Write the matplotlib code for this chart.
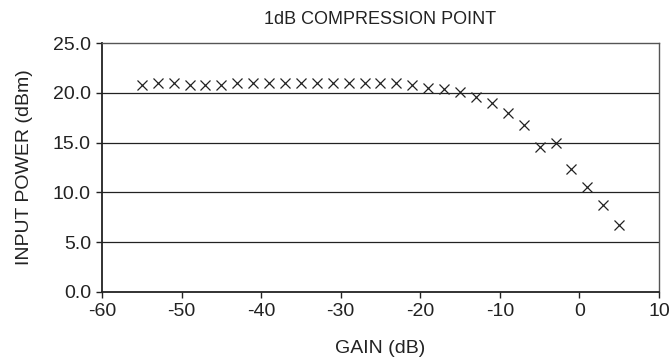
import matplotlib.pyplot as plt
import numpy as np

plt.rcParams["font.family"] = ["Liberation Sans", "DejaVu Sans"]
plt.rcParams["font.size"] = 14
plt.rcParams["axes.unicode_minus"] = False

gain_db = [-55, -53, -51, -49, -47, -45, -43, -41, -39, -37, -35, -33, -31,
           -29, -27, -25, -23, -21, -19, -17, -15, -13, -11, -9, -7, -5, -3,
           -1, 1, 3, 5]
input_power = [20.8, 21.0, 21.0, 20.8, 20.8, 20.8, 21.0, 21.0, 21.0, 21.0,
               21.0, 21.0, 21.0, 21.0, 21.0, 21.0, 21.0, 20.8, 20.5, 20.4,
               20.1, 19.6, 19.0, 18.0, 16.8, 14.6, 15.0, 12.3, 10.5, 8.7, 6.7]

x_ticks = [-60, -50, -40, -30, -20, -10, 0, 10]
y_ticks = [0, 5, 10, 15, 20, 25]

fig = plt.figure(figsize=(6.72, 3.63), dpi=100)
ax = fig.add_axes([102 / 672, 1 - 292 / 363, 557 / 672, 249 / 363])

# horizontal gridlines like the spreadsheet original
for y in y_ticks[1:-1]:
    ax.axhline(y, color="#222222", lw=0.9, zorder=1)

ax.plot(gain_db, input_power, linestyle="", marker="x", color="#222222",
        markersize=7.5, markeredgewidth=0.9, zorder=3)

ax.set_xlim(-60, 10)
ax.set_ylim(0, 25)
ax.set_xticks(x_ticks)
ax.set_yticks(y_ticks)
ax.set_yticklabels([f"{v:.1f}" for v in y_ticks])
ax.tick_params(direction="out", length=4, width=1, color="#222222",
               labelcolor="#222222", pad=4)

for side in ["left", "bottom"]:
    ax.spines[side].set_linewidth(1.3)
    ax.spines[side].set_color("#222222")
for side in ["top", "right"]:
    ax.spines[side].set_linewidth(1.0)
    ax.spines[side].set_color("#555555")

ax.set_xlabel("GAIN (dB)", color="#222222", labelpad=14)
ax.set_ylabel("INPUT POWER (dBm)", color="#222222", labelpad=14)
ax.set_title("1dB COMPRESSION POINT", fontsize=13, color="#222222", pad=14)

fig.savefig("out.png", dpi=100)
